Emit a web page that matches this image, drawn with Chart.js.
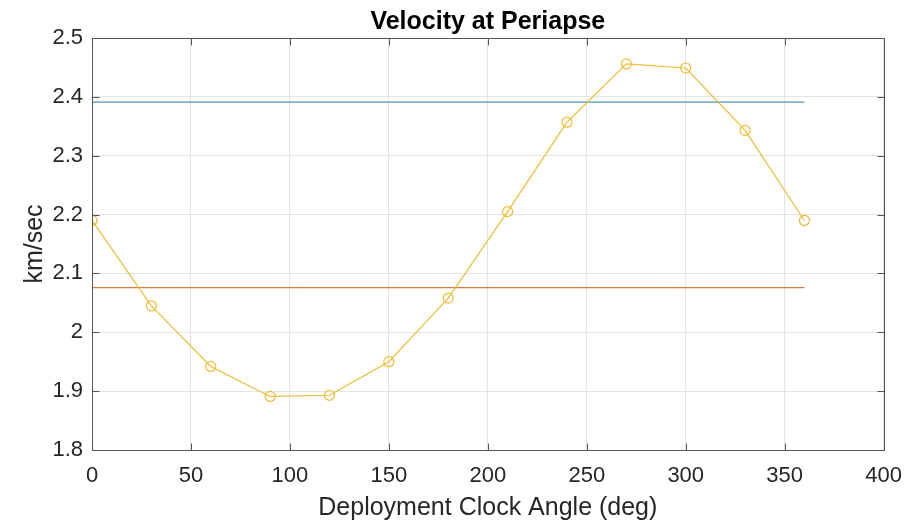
<!DOCTYPE html>
<html>
<head>
<meta charset="utf-8">
<script src="https://cdn.jsdelivr.net/npm/chart.js@4"></script>
<style>
  body { margin: 0; background: #fff; }
</style>
</head>
<body>
<canvas id="chart" width="915" height="521"></canvas>
<script>
// dades llegides del grafic
const angles = [0, 30, 60, 90, 120, 150, 180, 210, 240, 270, 300, 330, 360];
const velocity = [2.190, 2.045, 1.942, 1.891, 1.893, 1.950, 2.058, 2.205, 2.357, 2.456, 2.449, 2.343, 2.190];
const refAngles = [0, 360];
const refHigh = [2.391, 2.391];
const refLow = [2.076, 2.076];
const xTicks = [0, 50, 100, 150, 200, 250, 300, 350, 400];
const yTicks = [1.8, 1.9, 2.0, 2.1, 2.2, 2.3, 2.4, 2.5];

const FONT = "'Liberation Sans', Arial, sans-serif";
const AXIS = '#262626';

function pts(xs, ys) {
  return xs.map((x, i) => ({ x: x, y: ys[i] }));
}

// caixa i marques cap endins, com a MATLAB
const boxPlugin = {
  id: 'box',
  afterDraw(chart) {
    const ctx = chart.ctx;
    const a = chart.chartArea;
    const xs = chart.scales.x, ys = chart.scales.y;
    const L = Math.round(a.left) + 0.5, R = Math.round(a.right) + 0.5;
    const T = Math.round(a.top) + 0.5, B = Math.round(a.bottom) + 0.5;
    ctx.save();
    ctx.strokeStyle = '#555555';
    ctx.lineWidth = 1;
    ctx.beginPath();
    ctx.rect(L, T, R - L, B - T);
    const len = 7;
    xTicks.forEach(v => {
      const px = Math.round(xs.getPixelForValue(v)) + 0.5;
      ctx.moveTo(px, B); ctx.lineTo(px, B - len);
      ctx.moveTo(px, T); ctx.lineTo(px, T + len);
    });
    yTicks.forEach(v => {
      const py = Math.round(ys.getPixelForValue(v)) + 0.5;
      ctx.moveTo(L, py); ctx.lineTo(L + len, py);
      ctx.moveTo(R, py); ctx.lineTo(R - len, py);
    });
    ctx.stroke();
    ctx.restore();
  }
};

new Chart(document.getElementById('chart'), {
  type: 'line',
  data: {
    datasets: [
      {
        data: pts(refAngles, refHigh),
        borderColor: '#4a95c9',
        borderWidth: 1.2,
        pointRadius: 0,
        order: 2
      },
      {
        data: pts(refAngles, refLow),
        borderColor: '#de7a45',
        borderWidth: 1.2,
        pointRadius: 0,
        order: 1
      },
      {
        data: pts(angles, velocity),
        borderColor: '#ecbb36',
        borderWidth: 1.2,
        pointRadius: 5,
        pointBorderWidth: 1.2,
        pointBackgroundColor: 'rgba(0,0,0,0)',
        pointBorderColor: '#ecbb36',
        order: 0
      }
    ]
  },
  plugins: [boxPlugin],
  options: {
    responsive: false,
    animation: false,
    devicePixelRatio: 1,
    layout: { padding: { left: 0, right: 31, top: 0, bottom: 0 } },
    plugins: {
      legend: { display: false },
      tooltip: { enabled: false },
      title: {
        display: true,
        text: 'Velocity at Periapse',
        fullSize: false,
        color: '#000',
        font: { family: FONT, size: 25, weight: 'bold', lineHeight: 1.2 },
        padding: { top: 7, bottom: 1 }
      }
    },
    scales: {
      x: {
        type: 'linear',
        min: 0,
        max: 400,
        afterFit(s) { s.height = 71; },
        afterBuildTicks(s) { s.ticks = xTicks.map(v => ({ value: v })); },
        grid: { color: '#e4e4e4', drawTicks: false },
        border: { display: false },
        ticks: {
          color: AXIS,
          padding: 13,
          font: { family: FONT, size: 22 },
          callback: v => String(v)
        },
        title: {
          display: true,
          text: 'Deployment Clock Angle (deg)',
          color: AXIS,
          font: { family: FONT, size: 25, lineHeight: 1 },
          padding: { top: 0, bottom: 0 }
        }
      },
      y: {
        type: 'linear',
        min: 1.8,
        max: 2.5,
        afterFit(s) { s.width = 92; },
        afterBuildTicks(s) { s.ticks = yTicks.map(v => ({ value: v })); },
        grid: { color: '#e4e4e4', drawTicks: false },
        border: { display: false },
        ticks: {
          color: AXIS,
          padding: 9,
          font: { family: FONT, size: 22 },
          callback: v => String(Number(v.toFixed(1)))
        },
        title: {
          display: true,
          text: 'km/sec',
          color: AXIS,
          font: { family: FONT, size: 25, lineHeight: 1 },
          padding: { top: 23, bottom: 0 }
        }
      }
    }
  }
});
</script>
</body>
</html>
